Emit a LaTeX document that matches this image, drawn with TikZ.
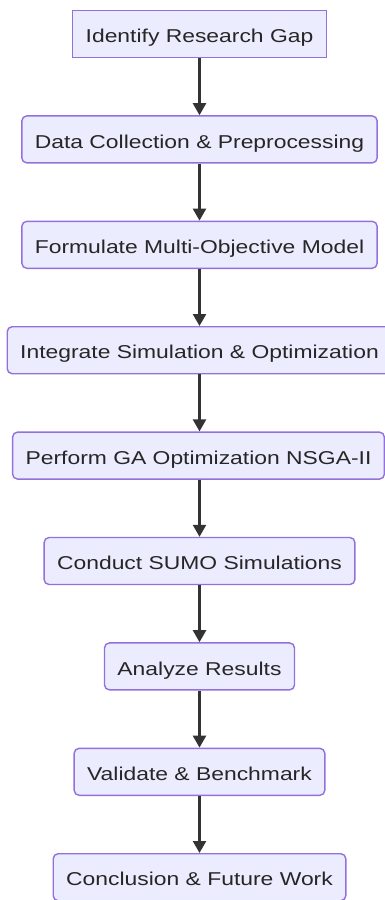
\documentclass[tikz,border=0pt]{standalone}
\usepackage{fontspec}
\setmainfont{Liberation Sans}[FakeStretch=1.23]
\usetikzlibrary{arrows.meta}
\definecolor{boxfill}{HTML}{ECECFF}
\definecolor{boxline}{HTML}{9370DB}
\definecolor{arrowc}{HTML}{333333}
\definecolor{textc}{HTML}{333333}
\tikzset{
  stepbox/.style={draw=boxline, fill=boxfill, line width=1.4pt, rounded corners=5pt,
    minimum height=47pt, inner xsep=13pt, inner ysep=0pt, text height=17.4pt, text depth=0pt,
    font=\fontsize{18.6}{20}\selectfont, text=black!85},
  sharpbox/.style={stepbox, sharp corners},
  flow/.style={draw=arrowc, line width=2.4pt, -{Triangle[width=13pt,length=12pt]}}
}
\begin{document}
\begin{tikzpicture}[x=1pt,y=-1pt]
\useasboundingbox (0,0) rectangle (385,900);
\node[sharpbox] (n1) at (199.5,34) {Identify Research Gap};
\node[stepbox] (n2) at (199.5,139.4) {Data Collection \& Preprocessing};
\node[stepbox] (n3) at (199.5,244.8) {Formulate Multi-Objective Model};
\node[stepbox] (n4) at (199.5,350.2) {Integrate Simulation \& Optimization};
\node[stepbox] (n5) at (198.5,455.6) {Perform GA Optimization NSGA-II};
\node[stepbox] (n6) at (199.5,561) {Conduct SUMO Simulations};
\node[stepbox] (n7) at (199.5,666.4) {Analyze Results};
\node[stepbox] (n8) at (199.5,771.8) {Validate \& Benchmark};
\node[stepbox] (n9) at (199.5,877.2) {Conclusion \& Future Work};
\foreach \a/\b in {n1/n2,n2/n3,n3/n4,n4/n5,n5/n6,n6/n7,n7/n8,n8/n9}
  \draw[flow] (\a.south -| n1.south) -- (\b.north -| n1.south);
\end{tikzpicture}
\end{document}
